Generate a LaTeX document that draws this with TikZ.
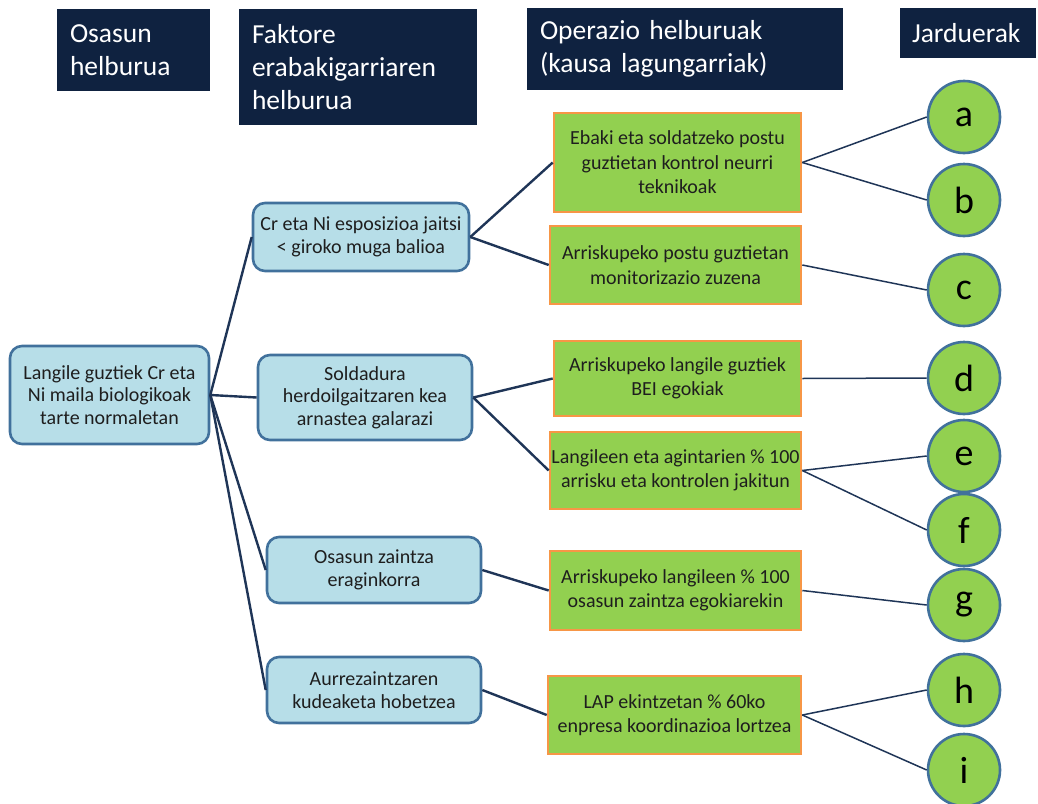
\documentclass[tikz,border=0pt]{standalone}
\usepackage{fontspec}
\setmainfont{Carlito}
\definecolor{navy}{HTML}{0F2240}
\definecolor{linkc}{HTML}{1F3557}
\definecolor{paleblue}{HTML}{B7DEE8}
\definecolor{blueedge}{HTML}{41719C}
\definecolor{leaf}{HTML}{92D050}
\definecolor{orangeedge}{HTML}{F79646}
\definecolor{txt}{HTML}{1E1E1E}
\tikzset{
  x=1pt, y=-1pt,
  header/.style={fill=navy, draw=none, text=white, inner sep=0pt,
    font=\fontsize{27.5}{33}\selectfont, align=left},
  goalbox/.style={fill=paleblue, draw=blueedge, line width=2.6pt, rounded corners=12pt,
    inner sep=0pt, text=txt, align=center, font=\fontsize{20}{22.5}\selectfont},
  opbox/.style={fill=leaf, draw=orangeedge, line width=2.6pt, inner sep=0pt,
    text=txt, align=center, font=\fontsize{20}{24.5}\selectfont},
  act/.style={circle, fill=leaf, draw=blueedge, line width=2.6pt, minimum size=72pt,
    inner sep=0pt, text=black, font=\fontsize{38}{38}\selectfont},
  trunk/.style={draw=linkc, line width=2.4pt},
  twig/.style={draw=linkc, line width=1.5pt},
}
\begin{document}
\begin{tikzpicture}
\useasboundingbox (0,0) rectangle (1038,803);

% column headings
\node[header, minimum width=153pt, minimum height=82pt, text width=127pt] (h1) at (133.5,50) {Osasun\\helburua};
\node[header, minimum width=238pt, minimum height=116pt, text width=212pt] (h2) at (358,67) {Faktore\\erabakigarriaren\\helburua};
\node[header, minimum width=316pt, minimum height=82pt, text width=290pt] (h3) at (685,49) {Operazio helburuak\\(kausa lagungarriak)};
\node[header, minimum width=136pt, minimum height=50pt, text width=112pt] (h4) at (968,33) {Jarduerak};

% health goal and determining factors
\node[goalbox, minimum width=199pt, minimum height=98pt] (root) at (109.5,395) {Langile guztiek Cr eta\\Ni maila biologikoak\\tarte normaletan};
\node[goalbox, minimum width=216pt, minimum height=68pt] (b1) at (361,237) {Cr eta Ni esposizioa jaitsi\\< giroko muga balioa};
\node[goalbox, minimum width=214pt, minimum height=85pt] (b2) at (365,397.5) {Soldadura\\herdoilgaitzaren kea\\arnastea galarazi};
\node[goalbox, minimum width=214pt, minimum height=66pt] (b3) at (374,570) {Osasun zaintza\\eraginkorra};
\node[goalbox, minimum width=214pt, minimum height=66pt] (b4) at (374,690) {Aurrezaintzaren\\kudeaketa hobetzea};

% operational goals
\node[opbox, minimum width=247pt, minimum height=99pt] (g1) at (677.5,162.5) {Ebaki eta soldatzeko postu\\guztietan kontrol neurri\\teknikoak};
\node[opbox, minimum width=251pt, minimum height=78pt] (g2) at (675.5,265) {Arriskupeko postu guztietan\\monitorizazio zuzena};
\node[opbox, minimum width=247pt, minimum height=75pt] (g3) at (677.5,378.5) {Arriskupeko langile guztiek\\BEI egokiak};
\node[opbox, minimum width=251pt, minimum height=77pt] (g4) at (675.5,470.5) {Langileen eta agintarien \% 100\\arrisku eta kontrolen jakitun};
\node[opbox, minimum width=251pt, minimum height=79pt] (g5) at (675.5,590.5) {Arriskupeko langileen \% 100\\osasun zaintza egokiarekin};
\node[opbox, minimum width=253pt, minimum height=78pt] (g6) at (674.5,715) {LAP ekintzetan \% 60ko\\enpresa koordinazioa lortzea};

% activities
\node[act] (a) at (964,117) {a};
\node[act] (b) at (964,200) {b};
\node[act] (c) at (964,290) {c};
\node[act] (d) at (964,378) {d};
\node[act] (e) at (964,456) {e};
\node[act] (f) at (964,530) {f};
\node[act] (g) at (964,605) {g};
\node[act] (h) at (964,690) {h};
\node[act] (i) at (964,770) {i};

% tree connectors
\draw[trunk] (root.east) -- (b1.west);
\draw[trunk] (root.east) -- (b2.west);
\draw[trunk] (root.east) -- (b3.west);
\draw[trunk] (root.east) -- (b4.west);
\draw[trunk] (b1.east) -- (g1.west);
\draw[trunk] (b1.east) -- (g2.west);
\draw[trunk] (b2.east) -- (g3.west);
\draw[trunk] (b2.east) -- (g4.west);
\draw[trunk] (b3.east) -- (g5.west);
\draw[trunk] (b4.east) -- (g6.west);
\draw[twig] (g1.east) -- (a.west);
\draw[twig] (g1.east) -- (b.west);
\draw[twig] (g2.east) -- (c.west);
\draw[twig] (g3.east) -- (d.west);
\draw[twig] (g4.east) -- (e.west);
\draw[twig] (g4.east) -- (f.west);
\draw[twig] (g5.east) -- (g.west);
\draw[twig] (g6.east) -- (h.west);
\draw[twig] (g6.east) -- (i.west);
\end{tikzpicture}
\end{document}
